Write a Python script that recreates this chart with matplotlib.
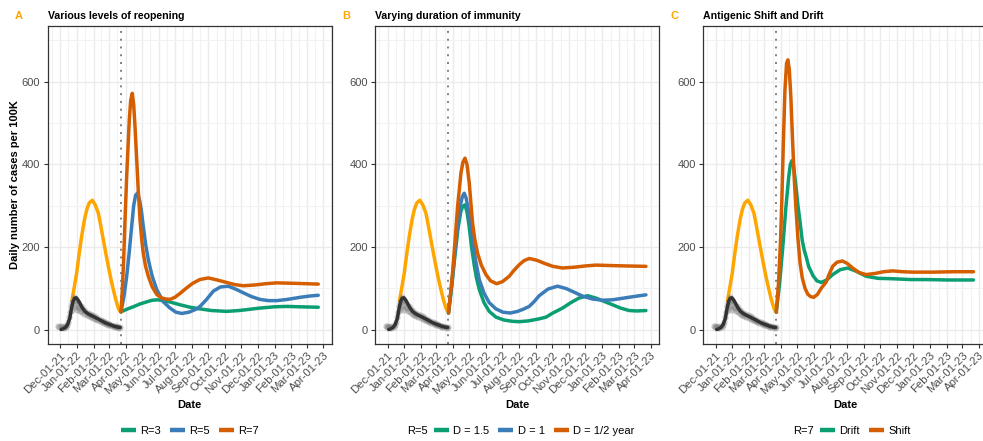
import numpy as np
import pandas as pd
import matplotlib.pyplot as plt
import matplotlib.dates as mdates
from matplotlib.lines import Line2D

plt.rcParams['font.family'] = ['Liberation Sans', 'DejaVu Sans']

# day offsets are counted from Dec 1 2021
base = pd.Timestamp('2021-12-01')
reopen_day = 112

# observed daily cases (grey points) and smoothed line (black)
obs_days = [-3, -1, 1, 3, 5, 7, 9, 11, 13, 15, 17, 19, 21, 22, 23, 25, 26, 27, 29, 30, 31, 33, 34, 35,
            37, 39, 41, 43, 45, 47, 49, 51, 53, 55, 57, 59, 61, 63, 65, 67, 69, 71, 73, 75, 77,
            79, 81, 83, 85, 87, 89, 91, 93, 95, 97, 99, 101, 103, 105, 107, 109, 111]
obs_vals = [8, 6, 9, 5, 7, 4, 8, 7, 12, 18, 30, 42, 58, 48, 66, 55, 80, 70, 60, 72, 48, 66, 55, 52,
            45, 58, 42, 50, 38, 46, 35, 40, 33, 37, 30, 36, 28, 32, 26, 30, 24, 26, 20, 23, 18,
            21, 15, 18, 14, 15, 11, 13, 10, 11, 8, 9, 7, 8, 5, 6, 4, 5]
smooth_days = [2, 6, 10, 14, 18, 21, 24, 27, 30, 33, 37, 41, 46, 52, 58, 64, 70, 77, 84, 92, 100, 106, 111]
smooth_vals = [0, 2, 5, 12, 27, 50, 68, 76, 77, 72, 63, 53, 44, 38, 34, 30, 26, 21, 16, 12, 8, 6, 5]

# projection without reopening (orange)
pre_days = [22, 26, 30.8, 35, 40, 45, 49.3, 54, 59.6, 65, 70.7, 75, 79.9, 84.5, 89.2, 94, 98.4, 103, 107.6, 110, 112.6]
pre_vals = [70, 100, 137, 180, 226, 265, 290, 307, 313, 302, 282, 253, 218, 185, 153, 122, 97, 72, 52, 46, 42]

# A: various levels of reopening
a_r3_days = [112.6, 125, 135, 147.7, 160, 170, 180, 192, 205, 221.5, 240, 258.4, 280, 307.7, 330, 350, 369, 395, 418.4, 445, 476.7]
a_r3_vals = [43, 50, 55, 62, 67, 71, 72, 70, 66, 60, 54, 50, 46, 44, 46, 49, 52, 55, 56, 55, 54]
a_r5_days = [112.6, 118, 123.1, 128, 132.3, 136, 139.5, 143.4, 147, 150.5, 153.7, 158, 163, 170, 178.5, 190, 203, 214,
             224.6, 238, 252.3, 258.4, 270, 283, 296, 310.6, 324, 338.3, 353, 369, 385, 400, 420, 443, 460, 476.7]
a_r5_vals = [43, 80, 129, 190, 250, 300, 325, 331, 312, 285, 250, 207, 169, 130, 97, 68, 52, 42,
             39, 42, 50, 56, 72, 93, 103, 105, 98, 89, 80, 73, 70, 70, 73, 78, 81, 83]
a_r7_days = [112.6, 115, 117.5, 120, 123.1, 125.5, 127.9, 130.5, 133.4, 136, 138.5, 141.6, 144.5, 147.7, 150.5, 153.7,
             158, 163, 170, 178.5, 187, 195, 203, 212, 222, 233.9, 245, 258, 273.7, 290, 307.7, 322, 338.3,
             360, 380, 400, 430, 455, 476.7]
a_r7_vals = [43, 95, 170, 265, 371, 440, 508, 555, 572, 545, 490, 411, 335, 266, 222, 185,
             153, 129, 104, 85, 77, 74, 73, 78, 88, 101, 112, 121, 125, 120, 114, 109, 106,
             108, 111, 113, 112, 111, 110]

# B: varying duration of immunity
b_d15_days = [112.4, 118, 124, 130, 135, 138.5, 142.8, 146.5, 150, 155, 160, 164, 169.2, 178, 187.6, 200, 215, 230,
              243, 260, 280, 292.3, 305, 322.9, 338, 353, 369, 385, 400, 415.1, 430, 445.9, 460, 476.8]
b_d15_vals = [40, 100, 175, 245, 285, 298, 302, 285, 255, 200, 155, 125, 97, 65, 44, 30, 23, 20,
              19, 21, 26, 30, 40, 52, 65, 76, 82, 76, 68, 60, 52, 46, 45, 46]
b_d1_days = [112.4, 118, 124, 130, 135, 138, 141.5, 145, 149, 153, 156.8, 162, 169.2, 178, 187.6, 200, 213, 226.4,
             240, 250, 261.4, 270, 279.9, 296, 313.7, 330, 345, 359.8, 378, 396.7, 415, 435, 455, 476.8]
b_d1_vals = [40, 105, 185, 260, 305, 322, 330, 318, 290, 255, 218, 170, 121, 88, 65, 50, 42, 40,
             44, 49, 56, 67, 82, 98, 105, 99, 90, 81, 74, 71, 72, 76, 80, 84]
b_dhalf_days = [112.4, 116, 119.9, 124.5, 129.2, 135.4, 139, 142.8, 146.5, 150.7, 153.5, 156.8, 161, 166, 173, 181.5,
                190, 201.1, 212, 224.5, 233, 243, 252, 261.4, 275, 290, 305, 322.9, 345, 365, 384.5, 410, 440, 476.8]
b_dhalf_vals = [40, 85, 137, 215, 298, 379, 405, 415, 400, 355, 310, 258, 218, 185, 156, 133,
                118, 111, 116, 129, 143, 157, 167, 172, 168, 160, 153, 149, 151, 154, 156, 155, 154, 153]

# C: antigenic shift and drift
c_drift_days = [112, 118, 124, 130, 135, 138, 141, 144, 148, 152, 155, 160, 164, 167, 172, 180, 187, 195, 205,
                216, 230, 244, 258, 278, 300, 327, 360, 389, 430, 476]
c_drift_vals = [42, 110, 200, 300, 370, 400, 409, 395, 350, 300, 270, 215, 190, 177, 152, 130, 118, 114, 120,
                133, 145, 149, 142, 129, 124, 123, 121, 121, 120, 120]
c_shift_days = [112, 116, 120, 122.3, 125, 128, 131, 133.4, 136, 139, 142, 145, 148, 152, 156, 160, 165, 170, 175,
                181, 188, 195, 204, 210, 216, 224, 234, 243, 253, 265, 278, 295, 310, 327, 345, 364, 400, 440, 476]
c_shift_vals = [42, 110, 220, 314, 450, 580, 645, 653, 630, 560, 460, 370, 300, 220, 160, 125, 100, 86, 80,
                78, 85, 100, 115, 135, 153, 163, 166, 160, 149, 138, 133, 136, 140, 142, 140, 139, 139, 140, 140]

green = '#0B9E73'
blue = '#3A7DB8'
red = '#D55E00'
gold = '#FFA500'


def to_dates(days):
    return base + pd.to_timedelta(np.array(days, dtype=float), unit='D')


fig = plt.figure(figsize=(9.83, 4.41), dpi=100)
W, H = 983.0, 441.0
panel_left = [47.7, 375.3, 703.3]
panel_w, panel_top, panel_bot = 284.0, 26.0, 344.0

month_ticks = pd.date_range('2021-12-01', '2023-04-01', freq='MS')
minor_ticks = [month_ticks[i] + (month_ticks[i + 1] - month_ticks[i]) / 2 for i in range(len(month_ticks) - 1)]
minor_ticks = [month_ticks[0] - pd.Timedelta(days=15)] + minor_ticks + [month_ticks[-1] + pd.Timedelta(days=15)]

panels = [
    ('A', 'Various levels of reopening', None,
     [(a_r3_days, a_r3_vals, green, 'R=3'), (a_r5_days, a_r5_vals, blue, 'R=5'), (a_r7_days, a_r7_vals, red, 'R=7')]),
    ('B', 'Varying duration of immunity', 'R=5',
     [(b_d15_days, b_d15_vals, green, 'D = 1.5'), (b_d1_days, b_d1_vals, blue, 'D = 1'),
      (b_dhalf_days, b_dhalf_vals, red, 'D = 1/2 year')]),
    ('C', 'Antigenic Shift and Drift', 'R=7',
     [(c_drift_days, c_drift_vals, green, 'Drift'), (c_shift_days, c_shift_vals, red, 'Shift')]),
]
legend_x = [None, 434, 820]

for i, (letter, title, leg_title, series) in enumerate(panels):
    ax = fig.add_axes([panel_left[i] / W, (H - panel_bot) / H, panel_w / W, (panel_bot - panel_top) / H])

    # grid
    ax.set_xticks(month_ticks)
    ax.set_xticks(minor_ticks, minor=True)
    ax.set_yticks([0, 200, 400, 600])
    ax.set_yticks([100, 300, 500, 700], minor=True)
    ax.grid(which='major', color='#EBEBEB', lw=1.0)
    ax.grid(which='minor', color='#F2F2F2', lw=0.8)
    ax.set_axisbelow(True)

    ax.axvline(base + pd.Timedelta(days=reopen_day), color='#808080', lw=1.4, ls=(0, (1, 3)), zorder=1)

    ax.plot(to_dates(pre_days), pre_vals, color=gold, lw=2.5, solid_capstyle='round', zorder=2)
    handles = []
    for days, vals, col, lab in series:
        ax.plot(to_dates(days), vals, color=col, lw=2.5, solid_capstyle='round', zorder=3)
        handles.append(Line2D([], [], color=col, lw=3.2, solid_capstyle='butt', label=lab))

    ax.plot(to_dates(obs_days), obs_vals, 'o', color='#808080', alpha=0.4, ms=4.5, mec='none', zorder=4)
    ax.plot(to_dates(smooth_days), smooth_vals, color='#333333', lw=2.5, solid_capstyle='round', zorder=5)

    ax.set_xlim(base - pd.Timedelta(days=22.7), base + pd.Timedelta(days=501.5))
    ax.set_ylim(-35, 735)
    ax.xaxis.set_major_formatter(mdates.DateFormatter('%b-%d-%y'))
    ax.tick_params(axis='x', which='major', labelsize=8.2, pad=1.5)
    ax.tick_params(axis='y', which='major', labelsize=8.0, pad=2.5)
    ax.tick_params(axis='both', which='major', labelcolor='#4D4D4D', color='#333333', length=3, width=0.8)
    ax.tick_params(which='minor', length=0)
    for lab in ax.get_xticklabels():
        lab.set_rotation(45)
        lab.set_ha('right')
        lab.set_va('top')
        lab.set_rotation_mode('anchor')
    for sp in ax.spines.values():
        sp.set_color('#333333')
        sp.set_linewidth(0.9)

    ax.text(0, 1.031, title, transform=ax.transAxes, fontsize=7.6, fontweight='bold', va='center', ha='left')
    ax.text(-0.115, 1.031, letter, transform=ax.transAxes, fontsize=8, fontweight='bold', color=gold,
            va='center', ha='left')
    ax.text(0.5, -0.192, 'Date', transform=ax.transAxes, fontsize=8, fontweight='bold', ha='center', va='center')
    if i == 0:
        ax.text(-0.115, 0.5, 'Daily number of cases per 100K', transform=ax.transAxes, rotation=90,
                fontsize=8, fontweight='bold', ha='center', va='center')

    # legend under each panel
    leg_y = (H - 431) / H
    leg_kw = dict(frameon=False, fontsize=8, handlelength=1.35, handletextpad=0.4,
                  columnspacing=0.8, borderpad=0, borderaxespad=0, ncol=len(handles))
    if leg_title is None:
        fig.legend(handles=handles, loc='center', bbox_to_anchor=((panel_left[i] + panel_w / 2) / W, leg_y), **leg_kw)
    else:
        fig.text((legend_x[i] - 6) / W, leg_y, leg_title, fontsize=8, ha='right', va='center')
        fig.legend(handles=handles, loc='center left', bbox_to_anchor=(legend_x[i] / W, leg_y), **leg_kw)

fig.savefig('out.png', dpi=100)
